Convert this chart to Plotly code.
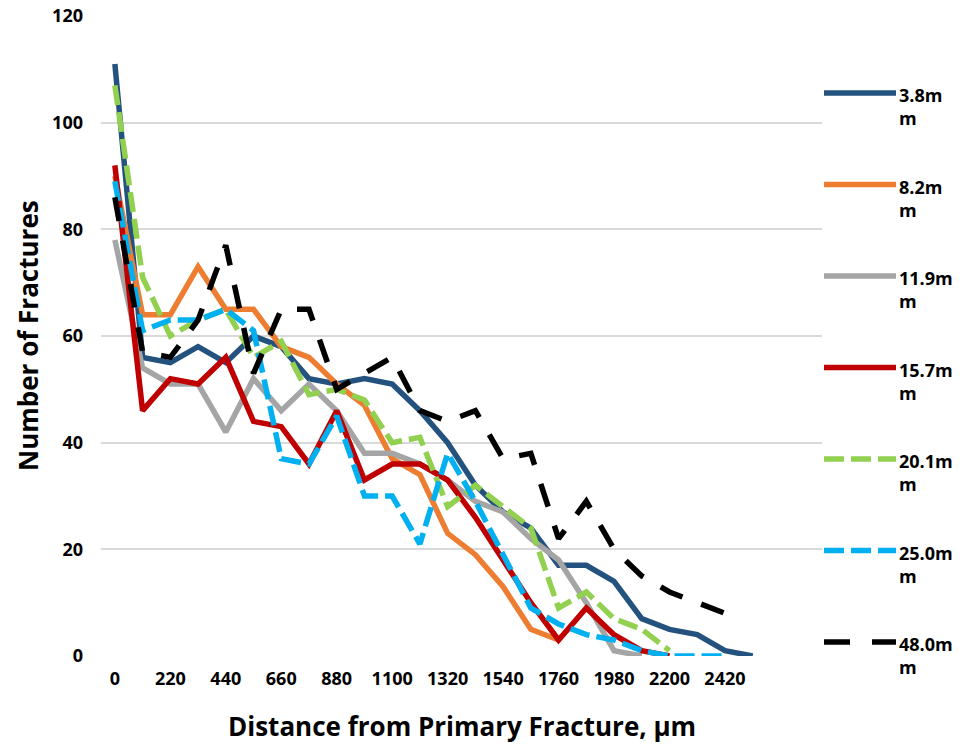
import plotly.graph_objects as go

# ---- data ----
distance = [i * 110 for i in range(26)]  # 0 .. 2750 µm
tick_vals = [0, 220, 440, 660, 880, 1100, 1320, 1540, 1760, 1980, 2200, 2420]

s_3_8 = [111, 56, 55, 58, 55, 60, 58, 52, 51, 52, 51, 46, 40, 32, 27, 24, 17, 17, 14, 7, 5, 4, 1, 0]
s_8_2 = [90, 64, 64, 73, 65, 65, 58, 56, 51, 47, 37, 34, 23, 19, 13, 5, 3]
s_11_9 = [78, 54, 51, 51, 42, 52, 46, 51, 46, 38, 38, 36, 33, 29, 27, 22, 18, 10, 1, 0]
s_15_7 = [92, 46, 52, 51, 56, 44, 43, 36, 46, 33, 36, 36, 33, 26, 18, 10, 3, 9, 4, 1, 0]
s_20_1 = [107, 71, 60, 63, 65, 56, 59, 49, 50, 48, 40, 41, 28, 32, 28, 24, 9, 12, 7, 5, 1]
s_25_0 = [89, 61, 63, 63, 65, 61, 37, 36, 45, 30, 30, 21, 38, 29, 19, 9, 6, 4, 3, 1, 0, 0, 0]
s_48_0 = [86, 57, 56, 63, 77, 53, 65, 65, 50, 53, 56, 46, 44, 46, 37, 38, 22, 29, 20, 15, 12, 10, 8]

names = ["3.8m", "8.2m", "11.9m", "15.7m", "20.1m", "25.0m", "48.0m"]
series = [s_3_8, s_8_2, s_11_9, s_15_7, s_20_1, s_25_0, s_48_0]
colors = ["#24527F", "#ED7D31", "#A5A5A5", "#C00000", "#92D050", "#00B0F0", "#000000"]
dashes = ["solid", "solid", "solid", "solid", "20px,7px", "20px,7px", "24px,20px"]
legend_dashes = ["solid", "solid", "solid", "solid", "20px,7px", "20px,7px", "26px,22px"]

FONT = "Open Sans"
LW = 5.5

fig = go.Figure()
for name, vals, col, dsh in zip(names, series, colors, dashes):
    fig.add_trace(go.Scatter(
        x=distance[:len(vals)], y=vals, mode="lines", name=name + "m",
        line=dict(color=col, width=LW, dash=dsh), showlegend=False,
    ))

# plot area in pixels
L, R, T, B = 101, 822, 16, 656
W, H = R - L, B - T

def px_x(p):
    return (p - L) / W

def px_y(p):
    return (B - p) / H

legend_y = [93, 184.5, 276, 367.5, 459, 550.5, 642]
shapes = []
annotations = []
for name, col, dsh, ly in zip(names, colors, legend_dashes, legend_y):
    shapes.append(dict(type="line", xref="paper", yref="paper",
                       x0=px_x(824), x1=px_x(896), y0=px_y(ly), y1=px_y(ly),
                       line=dict(color=col, width=LW, dash=dsh)))
    annotations.append(dict(xref="paper", yref="paper", x=px_x(898), y=px_y(ly - 11),
                            xanchor="left", yanchor="top", align="left", showarrow=False,
                            borderpad=0, text=name + "<br>m",
                            font=dict(family=FONT, size=18, color="black", weight="bold")))

annotations.append(dict(xref="paper", yref="paper", x=px_x(28), y=px_y(336),
                        xanchor="center", yanchor="middle", textangle=-90, showarrow=False,
                        text="Number of Fractures",
                        font=dict(family=FONT, size=26, color="black", weight="bold")))
annotations.append(dict(xref="paper", yref="paper", x=px_x(462), y=px_y(726),
                        xanchor="center", yanchor="middle", showarrow=False,
                        text="Distance from Primary Fracture, µm",
                        font=dict(family=FONT, size=26, color="black", weight="bold")))

fig.update_layout(
    width=961, height=746,
    margin=dict(l=L, r=961 - R, t=T, b=746 - B, autoexpand=False),
    paper_bgcolor="white", plot_bgcolor="white",
    font=dict(family=FONT, color="black"),
    shapes=shapes, annotations=annotations,
    showlegend=False,
)
fig.update_xaxes(
    range=[-55, 2805], tickmode="array", tickvals=tick_vals,
    ticktext=[str(v) for v in tick_vals],
    showgrid=False, zeroline=False, showline=False, ticks="",
    ticklabelstandoff=10,
    tickfont=dict(family=FONT, size=18, color="black", weight="bold"),
)
fig.update_yaxes(
    range=[0, 120], dtick=20, showgrid=True, gridcolor="#D9D9D9", gridwidth=1.5,
    zeroline=False, showline=False, ticks="",
    ticklabelstandoff=17,
    tickfont=dict(family=FONT, size=18, color="black", weight="bold"),
)

fig.write_html("out.html")
